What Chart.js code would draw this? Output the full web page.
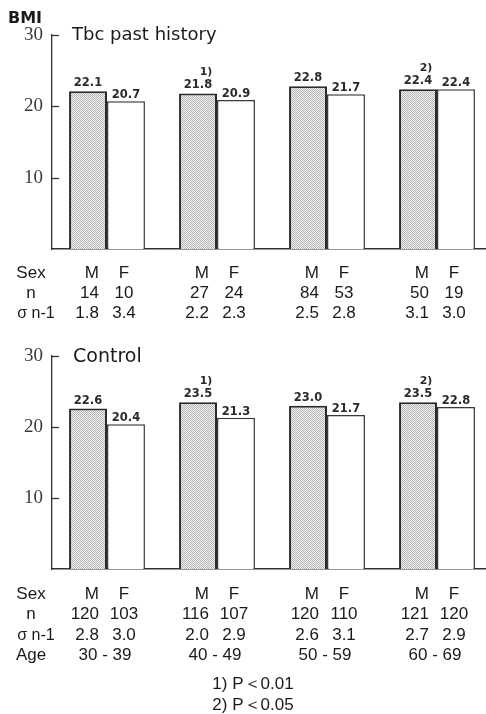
<!DOCTYPE html>
<html>
<head>
<meta charset="utf-8">
<script src="https://cdn.jsdelivr.net/npm/chart.js@4.4.1/dist/chart.umd.min.js"></script>
<style>
  html, body { margin: 0; padding: 0; background: #fff; overflow: hidden; }
  #wrap { position: relative; width: 486px; height: 714px; overflow: hidden; background: #fff; }
  #wrap canvas { position: absolute; left: 0; }
  #tbc { top: 0; }
  #ctl { top: 330px; }
</style>
</head>
<body>
<div id="wrap">
  <canvas id="tbc" width="492" height="330"></canvas>
  <canvas id="ctl" width="492" height="384"></canvas>
</div>
<script>
// Age groups (x categories)
const ageGroups = ['30 - 39', '40 - 49', '50 - 59', '60 - 69'];
const yTicks = [10, 20, 30];
const sigMarks = ['', '1)', '', '2)'];

// Tbc past history: mean BMI, n and SD (σ n-1)
const tbcMale = [22.1, 21.8, 22.8, 22.4];
const tbcFemale = [20.7, 20.9, 21.7, 22.4];
const tbcMaleN = ['14', '27', '84', '50'];
const tbcFemaleN = ['10', '24', '53', '19'];
const tbcMaleSD = ['1.8', '2.2', '2.5', '3.1'];
const tbcFemaleSD = ['3.4', '2.3', '2.8', '3.0'];

// Control group
const ctlMale = [22.6, 23.5, 23.0, 23.5];
const ctlFemale = [20.4, 21.3, 21.7, 22.8];
const ctlMaleN = ['120', '116', '120', '121'];
const ctlFemaleN = ['103', '107', '110', '120'];
const ctlMaleSD = ['2.8', '2.0', '2.6', '2.7'];
const ctlFemaleSD = ['3.0', '2.9', '3.1', '2.9'];

const footnotes = ['1) P\uFF1C0.01', '2) P\uFF1C0.05'];

const INK = '#1a1a1a';
const SANS = '"Liberation Sans", Arial, sans-serif';
const WIDE = '"DejaVu Sans", sans-serif';

// fine stipple fill for the male bars
function stipple() {
  const c = document.createElement('canvas');
  c.width = 2; c.height = 2;
  const g = c.getContext('2d');
  g.fillStyle = '#f2f2f2'; g.fillRect(0, 0, 2, 2);
  g.fillStyle = '#b4b4b4'; g.fillRect(0, 0, 1, 1); g.fillRect(1, 1, 1, 1);
  return g.createPattern(c, 'repeat');
}

// short tick marks pointing into the plot from the y axis
const innerTicks = {
  id: 'innerTicks',
  afterDraw(chart) {
    const y = chart.scales.y, ctx = chart.ctx, x0 = chart.chartArea.left;
    ctx.save();
    ctx.strokeStyle = '#333';
    ctx.lineWidth = 1.3;
    y.ticks.forEach(t => {
      if (t.value === 0) return;
      const py = Math.round(y.getPixelForValue(t.value)) + 0.5;
      ctx.beginPath(); ctx.moveTo(x0, py); ctx.lineTo(x0 + 7, py); ctx.stroke();
    });
    ctx.restore();
  }
};

// value printed above each bar, plus significance marks over male bars
const valueLabels = {
  id: 'valueLabels',
  afterDatasetsDraw(chart, args, opts) {
    const ctx = chart.ctx;
    ctx.save();
    ctx.fillStyle = '#2a2a2a';
    ctx.textAlign = 'center';
    ctx.textBaseline = 'alphabetic';
    chart.data.datasets.forEach((ds, di) => {
      chart.getDatasetMeta(di).data.forEach((bar, i) => {
        ctx.font = 'bold 11.5px ' + WIDE;
        ctx.fillText(ds.data[i].toFixed(1), bar.x, bar.y - (di === 0 ? 5 : 3));
        if (di === 0 && opts.marks[i]) {
          ctx.font = 'bold 11px ' + WIDE;
          ctx.fillText(opts.marks[i], bar.x + 8, bar.y - 18);
        }
      });
    });
    ctx.restore();
  }
};

// headings and the statistics table printed under the axis
const panelText = {
  id: 'panelText',
  afterDraw(chart, args, opts) {
    const ctx = chart.ctx, x = chart.scales.x;
    ctx.save();
    ctx.fillStyle = INK;
    ctx.textBaseline = 'alphabetic';
    (opts.titles || []).forEach(t => {
      ctx.font = t.font;
      ctx.textAlign = 'left';
      ctx.fillText(t.text, t.x, t.y);
    });
    (opts.rows || []).forEach(r => {
      ctx.font = r.labelFont || ('17px ' + SANS);
      ctx.textAlign = 'center';
      ctx.fillText(r.label, r.labelX || 31, r.y);
      ctx.font = '17px ' + SANS;
      ageGroups.forEach((g, i) => {
        const cx = x.getPixelForValue(i);
        if (r.center) {
          ctx.textAlign = 'center';
          ctx.fillText(r.center[i], cx - 2, r.y);
        } else {
          ctx.textAlign = 'right';
          ctx.fillText(r.m[i], cx - 8, r.y);
          ctx.textAlign = 'center';
          ctx.fillText(r.f[i], cx + 17, r.y);
        }
      });
    });
    (opts.notes || []).forEach(n => {
      ctx.font = '17px ' + SANS;
      ctx.textAlign = 'center';
      ctx.fillText(n.text, n.x, n.y);
    });
    ctx.restore();
  }
};

function makeChart(id, male, female, padding, text) {
  return new Chart(document.getElementById(id), {
    type: 'bar',
    data: {
      labels: ageGroups,
      datasets: [
        { label: 'M', data: male, backgroundColor: stipple(), borderColor: '#2a2a2a', borderWidth: 2, borderSkipped: 'bottom' },
        { label: 'F', data: female, backgroundColor: '#ffffff', borderColor: '#3a3a3a', borderWidth: 1.5, borderSkipped: 'bottom' }
      ]
    },
    options: {
      responsive: false,
      animation: false,
      devicePixelRatio: 1,
      layout: { padding: padding },
      datasets: { bar: { categoryPercentage: 0.69, barPercentage: 1.0 } },
      scales: {
        x: {
          ticks: { display: false },
          grid: { display: false, drawTicks: false },
          border: { display: true, color: '#333', width: 1.5 },
          afterFit: s => { s.height = 0; }
        },
        y: {
          min: 0, max: 30,
          afterBuildTicks: s => { s.ticks = [0].concat(yTicks).map(v => ({ value: v })); },
          ticks: {
            padding: 9,
            color: '#3a3a3a',
            font: { family: '"Liberation Serif", "Times New Roman", serif', size: 19 },
            callback: v => (v === 0 ? '' : String(v))
          },
          grid: { display: false, drawTicks: false },
          border: { display: true, color: '#333', width: 1.3 },
          afterFit: s => { s.width = 52; }
        }
      },
      plugins: {
        legend: { display: false },
        tooltip: { enabled: false },
        valueLabels: { marks: sigMarks },
        panelText: text
      }
    },
    plugins: [innerTicks, valueLabels, panelText]
  });
}

const sexM = ageGroups.map(() => 'M');
const sexF = ageGroups.map(() => 'F');

makeChart('tbc', tbcMale, tbcFemale, { top: 35, bottom: 81, left: 0, right: 0 }, {
  titles: [
    { text: 'BMI', x: 8, y: 23, font: 'bold 16px ' + WIDE },
    { text: 'Tbc past history', x: 72, y: 40, font: '18px ' + WIDE }
  ],
  rows: [
    { label: 'Sex', y: 278, m: sexM, f: sexF },
    { label: 'n', y: 298, m: tbcMaleN, f: tbcFemaleN },
    { label: '\u03C3 n-1', y: 318, m: tbcMaleSD, f: tbcFemaleSD, labelFont: '16px ' + SANS, labelX: 36 }
  ]
});

makeChart('ctl', ctlMale, ctlFemale, { top: 26, bottom: 145, left: 0, right: 0 }, {
  titles: [
    { text: 'Control', x: 73, y: 32, font: '19px ' + WIDE }
  ],
  rows: [
    { label: 'Sex', y: 269, m: sexM, f: sexF },
    { label: 'n', y: 289, m: ctlMaleN, f: ctlFemaleN },
    { label: '\u03C3 n-1', y: 310, m: ctlMaleSD, f: ctlFemaleSD, labelFont: '16px ' + SANS, labelX: 36 },
    { label: 'Age', y: 330, center: ageGroups }
  ],
  notes: [
    { text: footnotes[0], x: 253, y: 359 },
    { text: footnotes[1], x: 253, y: 380 }
  ]
});
</script>
</body>
</html>
